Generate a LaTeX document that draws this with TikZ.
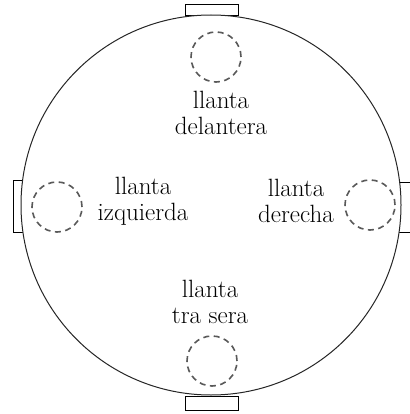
\documentclass[tikz,border=0pt]{standalone}
\begin{document}
\begin{tikzpicture}[x=1pt,y=-1pt,
  wheel/.style={draw=black!65, dash pattern=on 6pt off 4.5pt, line width=1.6pt, circle, minimum size=50pt, inner sep=0pt},
  tab/.style={draw=black, line width=1pt, fill=white},
  lbl/.style={align=center, font=\fontsize{25}{26}\selectfont, inner sep=0pt}]
\useasboundingbox (0,0) rectangle (409,414);
\draw[tab] (185,16) rectangle (238,5);
\draw[tab] (185,396) rectangle (238,410);
\draw[tab] (25,180) rectangle (13,232);
\draw[tab] (398,182) rectangle (412,232);
\node[draw=black!85, line width=1pt, circle, minimum size=380pt, inner sep=0pt, fill=white] (body) at (211,205) {};
\node[wheel] (wf) at (216,57) {};
\node[wheel] (wl) at (57,207) {};
\node[wheel] (wr) at (370,205) {};
\node[wheel] (wb) at (212,361) {};
\node[lbl] (tf) at (221,113) {llanta\\delantera};
\node[lbl] (tl) at (143,201) {llanta\\izquierda};
\node[lbl] (tr) at (296,201) {llanta\\derecha};
\node[lbl] (tb) at (210,302) {llanta\\tra sera};
\end{tikzpicture}
\end{document}
